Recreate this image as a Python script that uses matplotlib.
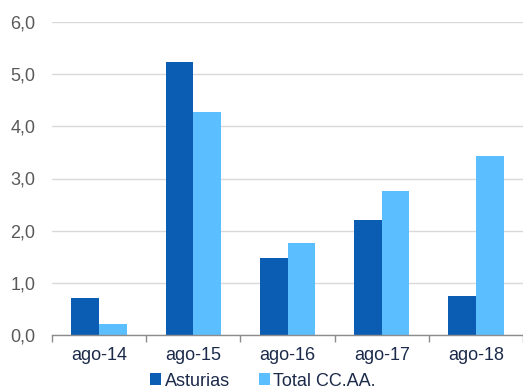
import matplotlib
matplotlib.use("Agg")
import matplotlib.pyplot as plt
import numpy as np
from matplotlib.patches import Patch
from matplotlib.ticker import FixedLocator

plt.rcParams['font.family'] = ['Liberation Sans', 'DejaVu Sans']

categories = ["ago-14", "ago-15", "ago-16", "ago-17", "ago-18"]
asturias = [0.71, 5.23, 1.48, 2.20, 0.75]
total_ccaa = [0.22, 4.27, 1.76, 2.76, 3.44]
series_names = ["Asturias", "Total CC.AA."]
yticks = [0, 1, 2, 3, 4, 5, 6]
ytick_labels = ["0,0", "1,0", "2,0", "3,0", "4,0", "5,0", "6,0"]

dark_blue = "#0B5DB3"
light_blue = "#5BBEFE"
label_navy = "#1C2A4A"

fig = plt.figure(figsize=(5.23, 3.90), dpi=100)
ax = fig.add_axes([52 / 523, 1 - 335 / 390, 1 - 52 / 523, (335 - 22) / 390])

x = np.arange(len(categories))
w = 0.295
ax.bar(x - w / 2, asturias, width=w, color=dark_blue, zorder=3)
ax.bar(x + w / 2, total_ccaa, width=w, color=light_blue, zorder=3)

ax.set_xlim(-0.5, len(categories) - 0.5)
ax.set_ylim(0, 6)

ax.set_yticks(yticks)
ax.set_yticklabels(ytick_labels)
ax.tick_params(axis='y', length=0, pad=12, labelsize=13, labelcolor="#595959")
ax.yaxis.grid(True, color="#D9D9D9", linewidth=1.0, zorder=0)
ax.set_axisbelow(True)

ax.set_xticks(x)
ax.set_xticklabels(categories)
ax.tick_params(axis='x', which='major', length=0, pad=9, labelsize=13, labelcolor=label_navy)
ax.xaxis.set_minor_locator(FixedLocator(np.arange(-0.5, len(categories), 1.0)))
ax.tick_params(axis='x', which='minor', length=5, width=1, color="#8C8C8C", direction='out')

for side in ("top", "right", "left"):
    ax.spines[side].set_visible(False)
ax.spines["bottom"].set_color("#8C8C8C")
ax.spines["bottom"].set_linewidth(1.0)
ax.spines["bottom"].set_zorder(4)

handles = [Patch(facecolor=dark_blue), Patch(facecolor=light_blue)]
leg = fig.legend(handles, series_names, loc='center', bbox_to_anchor=(0.503, 1 - 381 / 390),
                 ncol=2, frameon=False, fontsize=13, handlelength=0.6, handleheight=0.6,
                 handletextpad=0.2, columnspacing=1.6, borderpad=0, borderaxespad=0)
for t in leg.get_texts():
    t.set_color(label_navy)

fig.savefig("out.png", dpi=100)
